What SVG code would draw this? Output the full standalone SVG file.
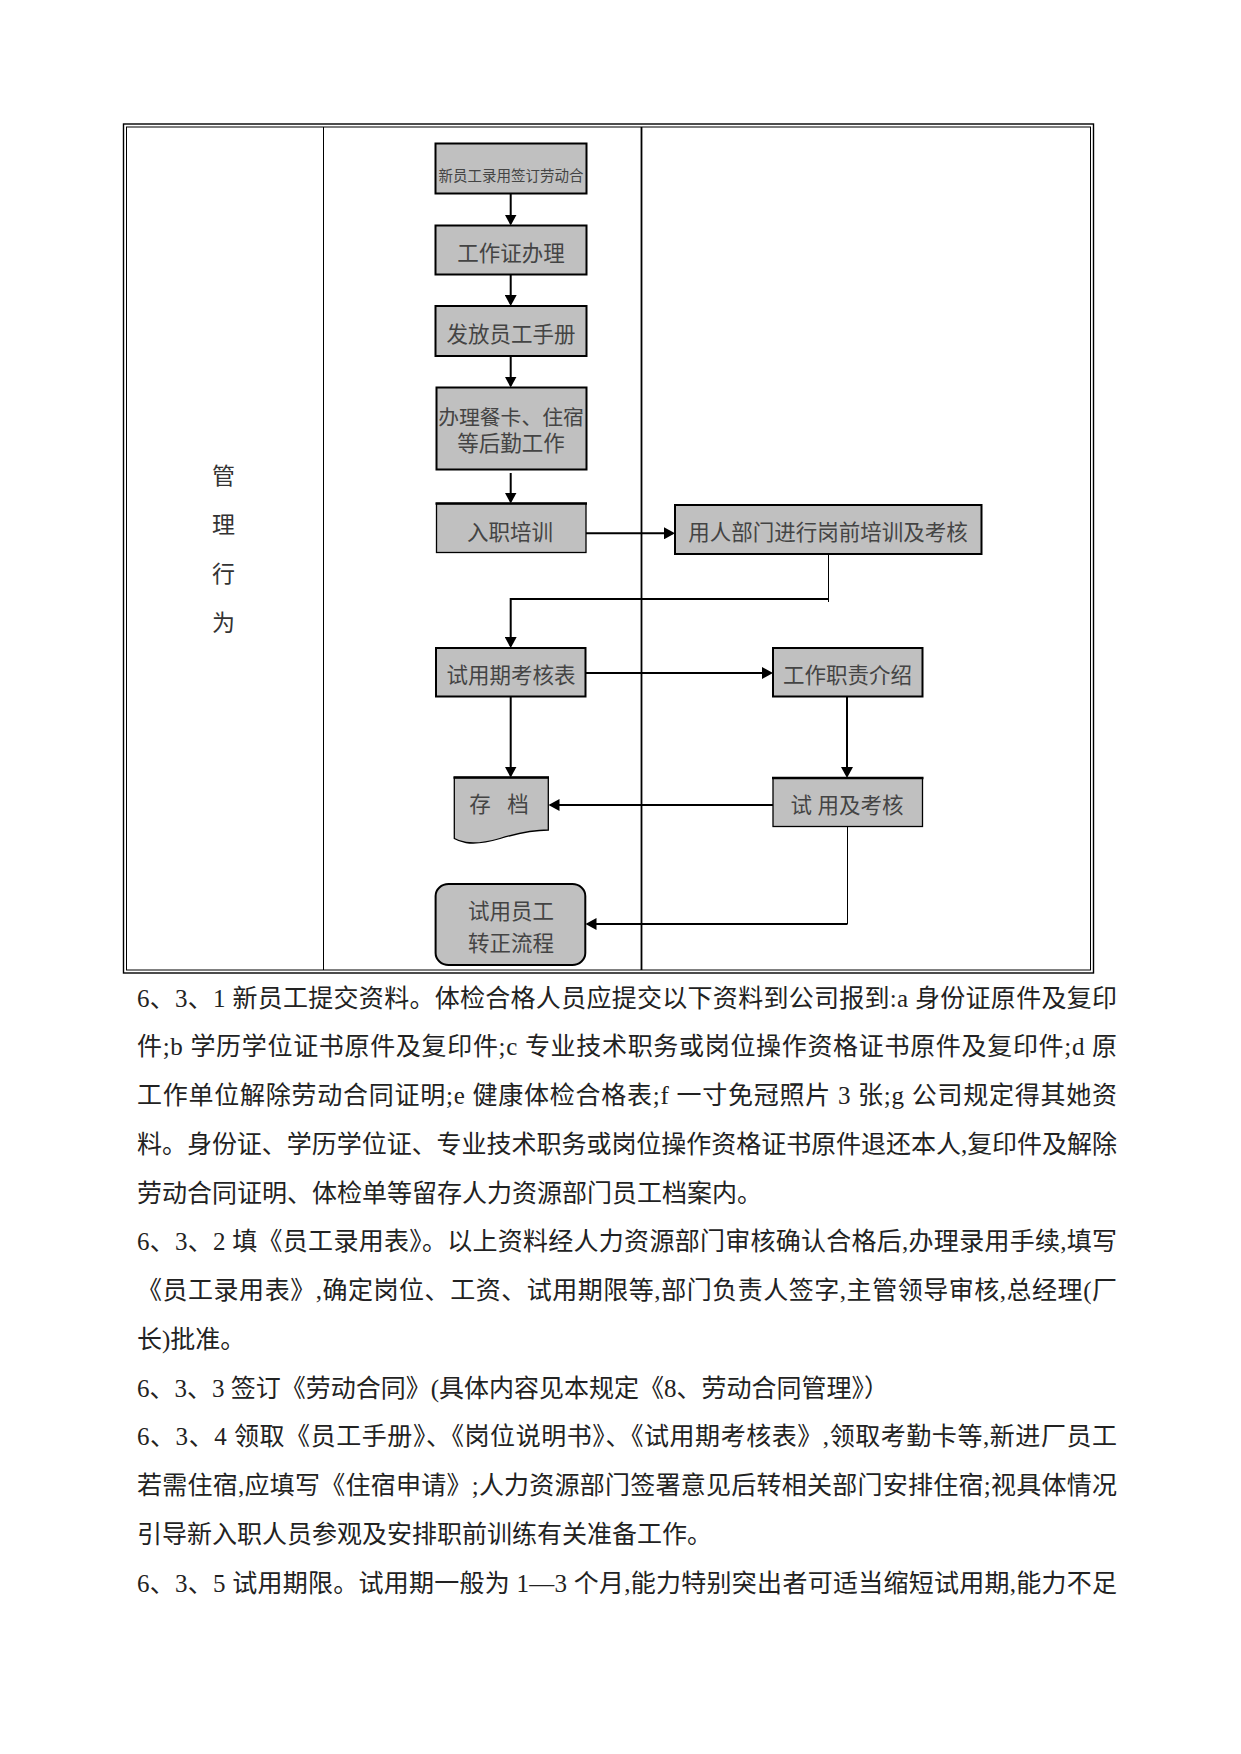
<svg xmlns="http://www.w3.org/2000/svg" width="1241" height="1754" viewBox="0 0 1241 1754">
<style>
.frame{fill:none;stroke:#000}
.box{fill:#c0c0c0;stroke:#000;stroke-width:2}
.boxt{fill:#c0c0c0;stroke:#000;stroke-width:1.3}
.top{stroke:#000;stroke-width:2.6}
.lbl{font-family:"Liberation Serif","Noto Sans CJK SC",serif;font-size:21.5px;fill:#444;text-anchor:middle;dominant-baseline:central}
.lane{font-family:"Liberation Serif","Noto Sans CJK SC",serif;font-size:23px;fill:#333;text-anchor:middle;dominant-baseline:central}
.body{font-family:"Liberation Serif","Noto Sans CJK SC",serif;font-size:25px;fill:#222;dominant-baseline:central}
.con{fill:none;stroke:#000;stroke-width:2}
.thin{fill:none;stroke:#000;stroke-width:1}
</style>
<defs>
<marker id="arr" markerUnits="userSpaceOnUse" markerWidth="12" markerHeight="12" refX="9" refY="6" orient="auto">
<path d="M0,0 L11,6 L0,12 z" fill="#000"/>
</marker>
</defs>
<rect width="1241" height="1754" fill="#fff"/>
<g id="table">
<rect class="frame" x="123.5" y="124" width="970" height="849" stroke-width="1.4"/>
<rect class="frame" x="126.5" y="127" width="964" height="843" stroke-width="1"/>
<line x1="323.5" y1="127" x2="323.5" y2="970" stroke="#000" stroke-width="1"/>
<line x1="641.5" y1="127" x2="641.5" y2="970" stroke="#000" stroke-width="1.8"/>
</g>
<g id="lane-label">
<text class="lane" x="223.5" y="476">管</text>
<text class="lane" x="223.5" y="525">理</text>
<text class="lane" x="223.5" y="574">行</text>
<text class="lane" x="223.5" y="623">为</text>
</g>
<g id="connectors">
<path class="con" d="M510.7,193.5 V223.5" marker-end="url(#arr)"/>
<path class="con" d="M510.7,274.5 V304" marker-end="url(#arr)"/>
<path class="con" d="M510.7,356 V385.5" marker-end="url(#arr)"/>
<path class="con" d="M510.7,473 V501.5" marker-end="url(#arr)"/>
<path class="con" d="M586,533.3 H673" marker-end="url(#arr)"/>
<path class="thin" d="M828.5,554 V602"/>
<path class="con" d="M828.5,599 H510.7 V646" marker-end="url(#arr)"/>
<path class="con" d="M585.5,673 H771" marker-end="url(#arr)"/>
<path class="con" d="M510.7,696.5 V775.5" marker-end="url(#arr)"/>
<path class="con" d="M847,696.5 V776" marker-end="url(#arr)"/>
<path class="con" d="M773,805 H550.5" marker-end="url(#arr)"/>
<path class="thin" d="M847.5,826.5 V924"/>
<path class="con" d="M847.5,924 H587.5" marker-end="url(#arr)"/>
</g>
<g id="n1">
<rect class="box" x="435.5" y="143.5" width="151" height="50"/>
<text class="lbl" x="511" y="176" style="font-size:14.5px">新员工录用签订劳动合</text>
</g>
<g id="n2">
<rect class="box" x="435.5" y="225.5" width="151" height="49"/>
<text class="lbl" x="511" y="254">工作证办理</text>
</g>
<g id="n3">
<rect class="box" x="435.5" y="306" width="151" height="50"/>
<text class="lbl" x="511" y="335">发放员工手册</text>
</g>
<g id="n4">
<rect class="box" x="436.5" y="387.5" width="150" height="82" stroke-width="1.7"/>
<text class="lbl" x="511" y="417.5" style="font-size:20.8px">办理餐卡、住宿</text>
<text class="lbl" x="511" y="444">等后勤工作</text>
</g>
<g id="n5">
<rect class="boxt" x="436.5" y="503.5" width="149.5" height="49"/>
<line class="top" x1="435.5" y1="503.5" x2="587" y2="503.5"/>
<text class="lbl" x="510" y="533">入职培训</text>
</g>
<g id="n6">
<rect class="box" x="675" y="505" width="306.5" height="49"/>
<text class="lbl" x="828" y="533">用人部门进行岗前培训及考核</text>
</g>
<g id="n7">
<rect class="box" x="436" y="648" width="149.5" height="48.5"/>
<text class="lbl" x="511" y="676">试用期考核表</text>
</g>
<g id="n8">
<rect class="box" x="773" y="648" width="149.5" height="48.5"/>
<text class="lbl" x="847.6" y="676">工作职责介绍</text>
</g>
<g id="n9">
<path class="boxt" d="M454.3,777.5 H548.3 V830 C530,830 515,834 500,838.5 C488,842 476,844 466,842.5 C460,841.5 456.5,839.8 454.3,838.5 Z"/>
<line class="top" x1="453.5" y1="777.5" x2="549" y2="777.5"/>
<text class="lbl" x="480" y="805">存</text>
<text class="lbl" x="518" y="805">档</text>
</g>
<g id="n10">
<rect class="boxt" x="773" y="778" width="149.5" height="48.5"/>
<line class="top" x1="772" y1="778" x2="923.5" y2="778"/>
<text class="lbl" x="847" y="806" xml:space="preserve">试 用及考核</text>
</g>
<g id="n11">
<rect class="box" x="435.6" y="884" width="149.7" height="81" rx="13" ry="12"/>
<text class="lbl" x="511" y="912">试用员工</text>
<text class="lbl" x="511" y="944">转正流程</text>
</g>
<g id="body-text">
<text class="body" x="137" y="998" textLength="980" lengthAdjust="spacing">6、3、1 新员工提交资料。体检合格人员应提交以下资料到公司报到:a 身份证原件及复印</text>
<text class="body" x="137" y="1046.75" textLength="980" lengthAdjust="spacing">件;b 学历学位证书原件及复印件;c 专业技术职务或岗位操作资格证书原件及复印件;d 原</text>
<text class="body" x="137" y="1095.5" textLength="980" lengthAdjust="spacing">工作单位解除劳动合同证明;e 健康体检合格表;f 一寸免冠照片 3 张;g 公司规定得其她资</text>
<text class="body" x="137" y="1144.25" textLength="980" lengthAdjust="spacing">料。身份证、学历学位证、专业技术职务或岗位操作资格证书原件退还本人,复印件及解除</text>
<text class="body" x="137" y="1193">劳动合同证明、体检单等留存人力资源部门员工档案内。</text>
<text class="body" x="137" y="1241.75" textLength="980" lengthAdjust="spacing">6、3、2 填《员工录用表》。以上资料经人力资源部门审核确认合格后,办理录用手续,填写</text>
<text class="body" x="137" y="1290.5" textLength="980" lengthAdjust="spacing">《员工录用表》,确定岗位、工资、试用期限等,部门负责人签字,主管领导审核,总经理(厂</text>
<text class="body" x="137" y="1339.25">长)批准。</text>
<text class="body" x="137" y="1388">6、3、3 签订《劳动合同》(具体内容见本规定《8、劳动合同管理》）</text>
<text class="body" x="137" y="1436.75" textLength="980" lengthAdjust="spacing">6、3、4 领取《员工手册》、《岗位说明书》、《试用期考核表》,领取考勤卡等,新进厂员工</text>
<text class="body" x="137" y="1485.5" textLength="980" lengthAdjust="spacing">若需住宿,应填写《住宿申请》;人力资源部门签署意见后转相关部门安排住宿;视具体情况</text>
<text class="body" x="137" y="1534.25">引导新入职人员参观及安排职前训练有关准备工作。</text>
<text class="body" x="137" y="1583" textLength="980" lengthAdjust="spacing">6、3、5 试用期限。试用期一般为 1—3 个月,能力特别突出者可适当缩短试用期,能力不足</text>
</g>
</svg>
